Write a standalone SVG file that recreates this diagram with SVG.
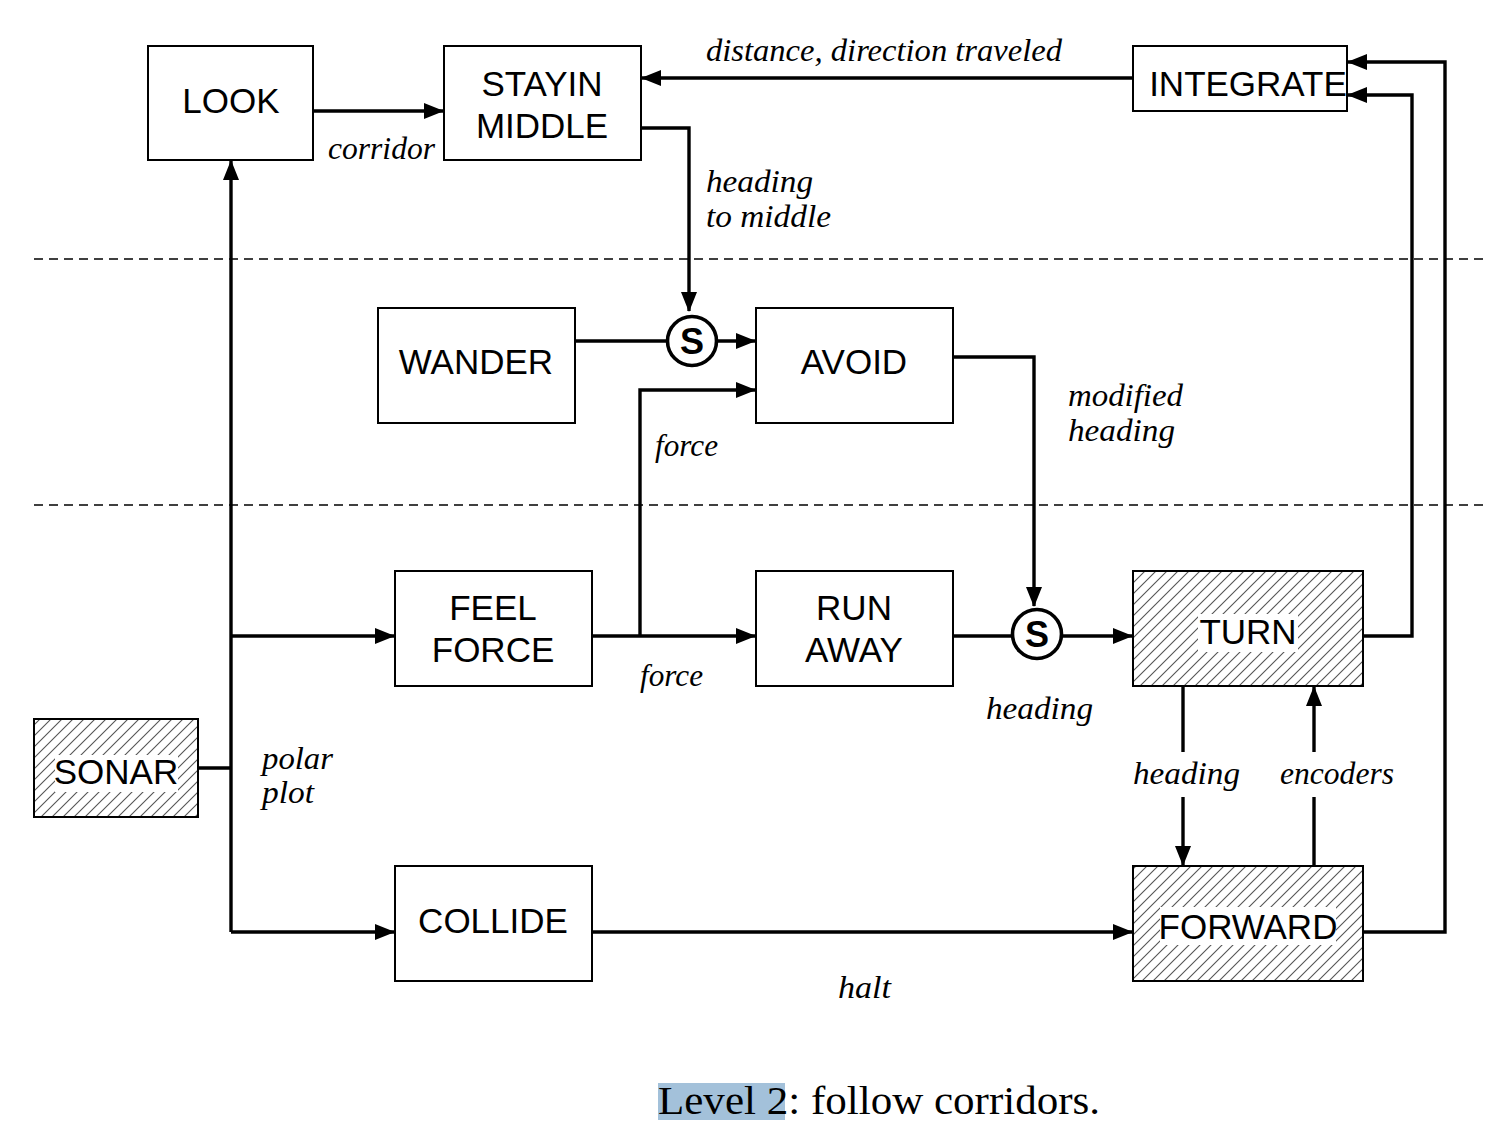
<svg xmlns="http://www.w3.org/2000/svg" width="1492" height="1140" viewBox="0 0 1492 1140">
<style>
.box{fill:#fff;stroke:#000;stroke-width:2}
.hbox{fill:url(#hatch);stroke:#000;stroke-width:2}
.bt{font-family:"Liberation Sans",Arial,sans-serif;font-size:35px;fill:#000;text-anchor:middle}
.lbl{font-family:"Liberation Serif","Times New Roman",serif;font-style:italic;font-size:32px;fill:#000}
.c{fill:none;stroke:#000;stroke-width:3.4}
.ca{fill:none;stroke:#000;stroke-width:3.4;marker-end:url(#arr)}
.dash{stroke:#000;stroke-width:1.6;stroke-dasharray:9 6;fill:none}
.sw{fill:#fff;stroke:#000;stroke-width:3.6}
.st{font-family:"Liberation Sans",Arial,sans-serif;font-weight:bold;font-size:36px;text-anchor:middle}
</style>
<defs>
<pattern id="hatch" patternUnits="userSpaceOnUse" width="11" height="11">
<rect width="11" height="11" fill="#fff"/>
<path d="M-3,3 L3,-3 M0,11 L11,0 M8,14 L14,8" stroke="#555" stroke-width="1.1"/>
</pattern>
<marker id="arr" markerUnits="userSpaceOnUse" markerWidth="20" markerHeight="16" refX="19" refY="8" orient="auto">
<path d="M0,0 L20,8 L0,16 Z" fill="#000"/>
</marker>
</defs>
<rect width="1492" height="1140" fill="#fff"/>

<g id="dividers">
<line class="dash" x1="34" y1="259" x2="1488" y2="259"/>
<line class="dash" x1="34" y1="505" x2="1488" y2="505"/>
</g>

<g id="connectors">
<path class="ca" d="M313,111 H443"/>
<path class="ca" d="M1133,78 H642"/>
<path class="ca" d="M641,128 H689 V311"/>
<path class="c" d="M575,341 H667"/>
<path class="ca" d="M717,341 H755"/>
<path class="ca" d="M640,636 V390 H755"/>
<path class="ca" d="M592,636 H755"/>
<path class="ca" d="M953,357 H1034 V606"/>
<path class="c" d="M953,636 H1012"/>
<path class="ca" d="M1062,636 H1132"/>
<path class="ca" d="M1363,636 H1412 V95 H1348"/>
<path class="ca" d="M1363,932 H1445 V62 H1348"/>
<path class="c" d="M1183,686 V752"/>
<path class="ca" d="M1183,797 V865"/>
<path class="c" d="M1314,866 V797"/>
<path class="ca" d="M1314,752 V687"/>
<path class="c" d="M198,768 H231"/>
<path class="ca" d="M231,932 V161"/>
<path class="ca" d="M231,636 H394"/>
<path class="ca" d="M231,932 H394"/>
<path class="ca" d="M592,932 H1132"/>
</g>

<g id="s1">
<circle class="sw" cx="692" cy="341" r="24.5"/>
<text class="st" x="692" y="354">S</text>
</g>
<g id="s2">
<circle class="sw" cx="1037" cy="634" r="24.5"/>
<text class="st" x="1037" y="647">S</text>
</g>

<g id="look"><rect class="box" x="148" y="46" width="165" height="114"/><text class="bt" x="231" y="113">LOOK</text></g>
<g id="stayin"><rect class="box" x="444" y="46" width="197" height="114"/><text class="bt" x="542" y="96">STAYIN</text><text class="bt" x="542" y="138">MIDDLE</text></g>
<g id="integrate"><rect class="box" x="1133" y="46" width="214" height="65"/><text class="bt" x="1248" y="96">INTEGRATE</text></g>
<g id="wander"><rect class="box" x="378" y="308" width="197" height="115"/><text class="bt" x="476" y="374">WANDER</text></g>
<g id="avoid"><rect class="box" x="756" y="308" width="197" height="115"/><text class="bt" x="854" y="374">AVOID</text></g>
<g id="feelforce"><rect class="box" x="395" y="571" width="197" height="115"/><text class="bt" x="493" y="620">FEEL</text><text class="bt" x="493" y="662">FORCE</text></g>
<g id="runaway"><rect class="box" x="756" y="571" width="197" height="115"/><text class="bt" x="854" y="620">RUN</text><text class="bt" x="854" y="662">AWAY</text></g>
<g id="turn"><rect class="hbox" x="1133" y="571" width="230" height="115"/><rect x="1198" y="614" width="100" height="38" fill="#fff"/><text class="bt" x="1248" y="644">TURN</text></g>
<g id="sonar"><rect class="hbox" x="34" y="719" width="164" height="98"/><rect x="55" y="755" width="123" height="37" fill="#fff"/><text class="bt" x="116" y="784">SONAR</text></g>
<g id="collide"><rect class="box" x="395" y="866" width="197" height="115"/><text class="bt" x="493" y="933">COLLIDE</text></g>
<g id="forward"><rect class="hbox" x="1133" y="866" width="230" height="115"/><rect x="1160" y="907" width="176" height="38" fill="#fff"/><text class="bt" x="1248" y="939">FORWARD</text></g>

<g id="labels" lengthAdjust="spacingAndGlyphs">
<text class="lbl" x="328" y="159" textLength="107" lengthAdjust="spacingAndGlyphs">corridor</text>
<text class="lbl" x="706" y="61" textLength="356" lengthAdjust="spacingAndGlyphs">distance, direction traveled</text>
<text class="lbl" x="706" y="192" textLength="107" lengthAdjust="spacingAndGlyphs">heading</text>
<text class="lbl" x="706" y="227" textLength="125" lengthAdjust="spacingAndGlyphs">to middle</text>
<text class="lbl" x="655" y="456" textLength="63" lengthAdjust="spacingAndGlyphs">force</text>
<text class="lbl" x="1068" y="406" textLength="115" lengthAdjust="spacingAndGlyphs">modified</text>
<text class="lbl" x="1068" y="441" textLength="107" lengthAdjust="spacingAndGlyphs">heading</text>
<text class="lbl" x="640" y="686" textLength="63" lengthAdjust="spacingAndGlyphs">force</text>
<text class="lbl" x="986" y="719" textLength="107" lengthAdjust="spacingAndGlyphs">heading</text>
<text class="lbl" x="1133" y="784" textLength="107" lengthAdjust="spacingAndGlyphs">heading</text>
<text class="lbl" x="1280" y="784" textLength="114" lengthAdjust="spacingAndGlyphs">encoders</text>
<text class="lbl" x="262" y="769" textLength="71" lengthAdjust="spacingAndGlyphs">polar</text>
<text class="lbl" x="262" y="803" textLength="52" lengthAdjust="spacingAndGlyphs">plot</text>
<text class="lbl" x="838" y="998" textLength="53" lengthAdjust="spacingAndGlyphs">halt</text>
</g>

<g id="caption">
<rect x="658" y="1083" width="127" height="37" fill="#a3c1da"/>
<text x="658" y="1114" font-family="'Liberation Serif','Times New Roman',serif" font-size="40" textLength="442" lengthAdjust="spacingAndGlyphs">Level 2: follow corridors.</text>
</g>
</svg>
